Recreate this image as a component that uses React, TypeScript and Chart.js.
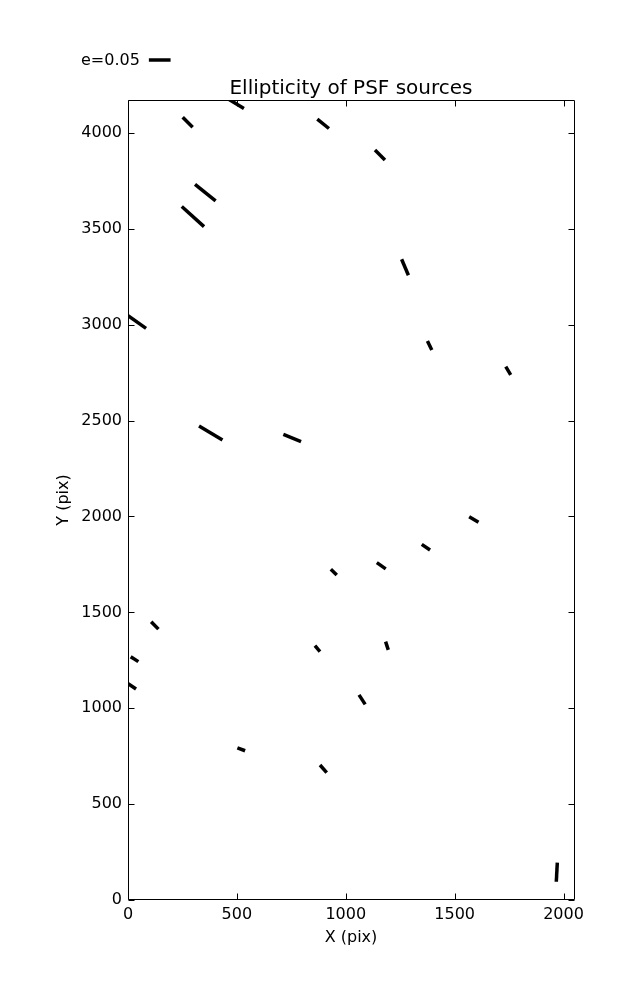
import React, { useEffect, useRef } from "react";
import { Chart, registerables } from "chart.js";

Chart.register(...registerables);

// ---- Data ----
const X_POS = [274, 493, 355, 298, 896, 1157, 1272, 38, 1385, 1746, 380, 754, 1588, 1368, 1163, 945, 123, 30, 18, 870, 1189, 1075, 520, 897, 1969];
const Y_POS = [4056, 4155, 3689, 3564, 4048, 3885, 3300, 3017, 2892, 2760, 2435, 2409, 1984, 1840, 1743, 1710, 1432, 1256, 1115, 1311, 1326, 1045, 786, 684, 145];
const ELLIP = [0.0325, 0.046, 0.061, 0.069, 0.0345, 0.0325, 0.04, 0.055, 0.023, 0.022, 0.063, 0.044, 0.025, 0.023, 0.025, 0.019, 0.024, 0.021, 0.023, 0.018, 0.02, 0.026, 0.019, 0.0235, 0.044];
const THETA = [-45, -31, -39, -42, -39, -45, -67, -35, -64, -59, -31, -22, -31, -34, -35, -44, -46, -33, -34, -50, -72, -57, -21, -49, 87];

const X_TICKS = [0, 500, 1000, 1500, 2000];
const Y_TICKS = [0, 500, 1000, 1500, 2000, 2500, 3000, 3500, 4000];
const X_MAX = 2048;
const Y_MAX = 4172;
const LEGEND_E = 0.05;
const LEGEND_LABEL = "e=0.05";
const TITLE = "Ellipticity of PSF sources";
const X_LABEL = "X (pix)";
const Y_LABEL = "Y (pix)";

// ---- Styles ----
const FONT = "'DejaVu Sans', sans-serif";
const PX_PER_E = 434;
const STICK_WIDTH = 3.5;
const TICK_LEN = 6;

const framePlugin = {
  id: "frameAndLegend",
  afterDatasetsDraw(chart: any) {
    const { ctx, chartArea, scales } = chart;
    const { left, right, top, bottom } = chartArea;
    ctx.save();
    ctx.strokeStyle = "#000";
    ctx.lineWidth = 1;
    ctx.beginPath();
    const L = Math.floor(left) + 0.5;
    const R = Math.floor(right) + 0.5;
    const T = Math.floor(top) + 0.5;
    const B = Math.floor(bottom) - 0.5;
    ctx.rect(L, T, R - L, B - T);
    ctx.stroke();
    ctx.beginPath();
    scales.x.ticks.forEach((t: any) => {
      const px = Math.round(scales.x.getPixelForValue(t.value)) + 0.5;
      ctx.moveTo(px, B);
      ctx.lineTo(px, B - TICK_LEN);
      ctx.moveTo(px, T);
      ctx.lineTo(px, T + TICK_LEN);
    });
    scales.y.ticks.forEach((t: any) => {
      const py = Math.round(scales.y.getPixelForValue(t.value)) + 0.5;
      ctx.moveTo(L, py);
      ctx.lineTo(L + TICK_LEN, py);
      ctx.moveTo(R, py);
      ctx.lineTo(R - TICK_LEN, py);
    });
    ctx.stroke();
    ctx.restore();
  },
  afterDraw(chart: any) {
    const { ctx } = chart;
    ctx.save();
    ctx.fillStyle = "#000";
    ctx.font = `16px ${FONT}`;
    ctx.textAlign = "left";
    ctx.textBaseline = "middle";
    const tx = 81;
    const ty = 61;
    ctx.fillText(LEGEND_LABEL, tx, ty);
    const w = ctx.measureText(LEGEND_LABEL).width;
    const sx = tx + w + 9;
    ctx.strokeStyle = "#000";
    ctx.lineWidth = STICK_WIDTH;
    ctx.lineCap = "butt";
    ctx.beginPath();
    ctx.moveTo(sx, 60);
    ctx.lineTo(sx + LEGEND_E * PX_PER_E, 60);
    ctx.stroke();
    ctx.restore();
  },
};

export default function App() {
  const ref = useRef<HTMLCanvasElement | null>(null);

  useEffect(() => {
    if (!ref.current) return;
    const points = X_POS.map((x, i) => ({ x, y: Y_POS[i] }));
    const chart = new Chart(ref.current, {
      type: "scatter",
      data: {
        datasets: [
          {
            label: "ellipticity",
            data: points,
            pointStyle: "line",
            radius: (c: any) => (ELLIP[c.dataIndex] * PX_PER_E) / 2,
            rotation: (c: any) => -THETA[c.dataIndex],
            borderColor: "#000",
            backgroundColor: "#000",
            borderWidth: STICK_WIDTH,
            hoverRadius: (c: any) => (ELLIP[c.dataIndex] * PX_PER_E) / 2,
            clip: 0,
          } as any,
        ],
      },
      options: {
        animation: false,
        responsive: false,
        devicePixelRatio: 1,
        events: [],
        layout: { padding: { left: 40, right: 63, top: 0, bottom: 0 } },
        plugins: {
          legend: { display: false },
          tooltip: { enabled: false },
          title: {
            display: true,
            text: TITLE,
            fullSize: false,
            color: "#000",
            font: { family: FONT, size: 20, weight: "normal", lineHeight: 1 },
            padding: { top: 79, bottom: 1 },
          },
        },
        scales: {
          x: {
            type: "linear",
            min: 0,
            max: X_MAX,
            afterBuildTicks: (s: any) => {
              s.ticks = X_TICKS.map((v) => ({ value: v }));
            },
            afterFit: (s: any) => {
              s.height = 100;
            },
            grid: { display: false, drawTicks: false },
            border: { display: false },
            ticks: {
              color: "#000",
              font: { family: FONT, size: 16 },
              padding: 5,
              maxRotation: 0,
              autoSkip: false,
              callback: (v: any) => String(v),
            },
            title: {
              display: true,
              text: X_LABEL,
              color: "#000",
              font: { family: FONT, size: 16 },
              padding: { top: 0, bottom: 52.4 },
            },
          },
          y: {
            type: "linear",
            min: 0,
            max: Y_MAX,
            afterBuildTicks: (s: any) => {
              s.ticks = Y_TICKS.map((v) => ({ value: v }));
            },
            afterFit: (s: any) => {
              s.width = 88;
            },
            grid: { display: false, drawTicks: false },
            border: { display: false },
            ticks: {
              color: "#000",
              font: { family: FONT, size: 16 },
              padding: 6,
              autoSkip: false,
              callback: (v: any) => String(v),
            },
            title: {
              display: true,
              text: Y_LABEL,
              color: "#000",
              font: { family: FONT, size: 16 },
              padding: { top: 14.4, bottom: 0 },
            },
          },
        },
      } as any,
      plugins: [framePlugin],
    });
    return () => chart.destroy();
  }, []);

  return (
    <div style={{ position: "absolute", left: 0, top: 0, width: 637, height: 1000, background: "#fff" }}>
      <canvas ref={ref} width={637} height={1000} style={{ display: "block", width: 637, height: 1000 }} />
    </div>
  );
}
